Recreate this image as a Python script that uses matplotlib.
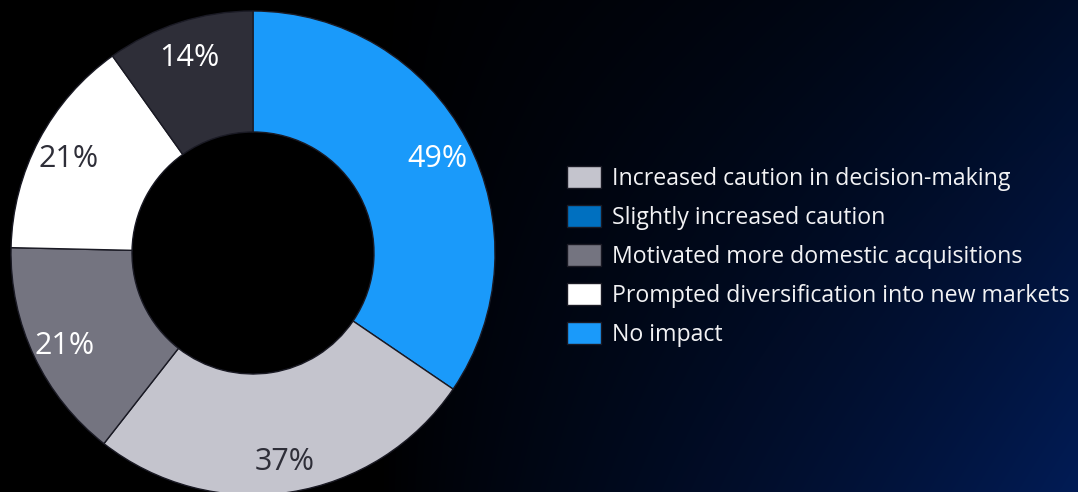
import numpy as np
import matplotlib
matplotlib.use("Agg")
import matplotlib.pyplot as plt
from matplotlib.patches import Patch
from matplotlib.colors import to_rgb

# ---- data ----
slice_labels = ["No impact", "Increased caution in decision-making",
                "Motivated more domestic acquisitions",
                "Prompted diversification into new markets",
                "Slightly increased caution"]
slice_values = [49, 37, 21, 21, 14]
slice_colors = ["#1a9afa", "#c4c4cd", "#747480", "#ffffff", "#2e2e38"]
text_colors = ["#ffffff", "#2e2e38", "#ffffff", "#2e2e38", "#ffffff"]

legend_labels = ["Increased caution in decision-making",
                 "Slightly increased caution",
                 "Motivated more domestic acquisitions",
                 "Prompted diversification into new markets",
                 "No impact"]
legend_colors = ["#c4c4cd", "#0070c0", "#747480", "#ffffff", "#1a9afa"]

W, H = 1078, 492
fig = plt.figure(figsize=(W / 100, H / 100), dpi=100)

# background gradient
bg = fig.add_axes([0, 0, 1, 1])
yy, xx = np.mgrid[0:H, 0:W]
s = np.clip((xx - 380) / (W - 380.0), 0, 1)
v = yy / float(H)
navy = np.array([2, 22, 68]) / 255.0
extra = np.array([0, 6, 18]) / 255.0
img = ((s ** 0.8) * (0.32 + 0.68 * v))[..., None] * navy[None, None, :] \
    + (s ** 3)[..., None] * extra[None, None, :]
img = np.clip(img, 0, 1)
bg.imshow(img, extent=[0, W, H, 0], aspect="auto")
bg.set_xlim(0, W)
bg.set_ylim(H, 0)
bg.axis("off")

# donut
cx, cy, R = 253, 253, 242
ax = fig.add_axes([(cx - R) / W, (H - cy - R) / H, 2 * R / W, 2 * R / H])
ax.set_facecolor("none")
total = sum(slice_values)
wedges, texts, autotexts = ax.pie(
    slice_values, colors=slice_colors, startangle=90, counterclock=False,
    radius=1.0, wedgeprops=dict(width=0.5, edgecolor="#1a1a24", linewidth=1.0),
    autopct=lambda p: f"{p * total / 100:.0f}%", pctdistance=0.86,
    textprops=dict(fontsize=22, family=["Open Sans", "DejaVu Sans"]))
for at, c in zip(autotexts, text_colors):
    at.set_color(c)
    at.set_va("center_baseline")
ax.set_xlim(-1, 1)
ax.set_ylim(-1, 1)
ax.set_aspect("equal")
ax.axis("off")

# legend
handles = [Patch(facecolor=c, edgecolor="#1a1a24", linewidth=1.0) for c in legend_colors]
leg = fig.legend(handles, legend_labels, loc="upper left",
                 bbox_to_anchor=(567 / W, 1 - 166 / H), frameon=False,
                 prop=dict(family=["Open Sans", "DejaVu Sans"], size=16.7),
                 handlelength=1.48, handleheight=1.05, handletextpad=0.45,
                 labelspacing=0.62, borderaxespad=0, borderpad=0)
for txt in leg.get_texts():
    txt.set_color("#f2f2f4")

fig.savefig("out.png", dpi=100, facecolor="black")
